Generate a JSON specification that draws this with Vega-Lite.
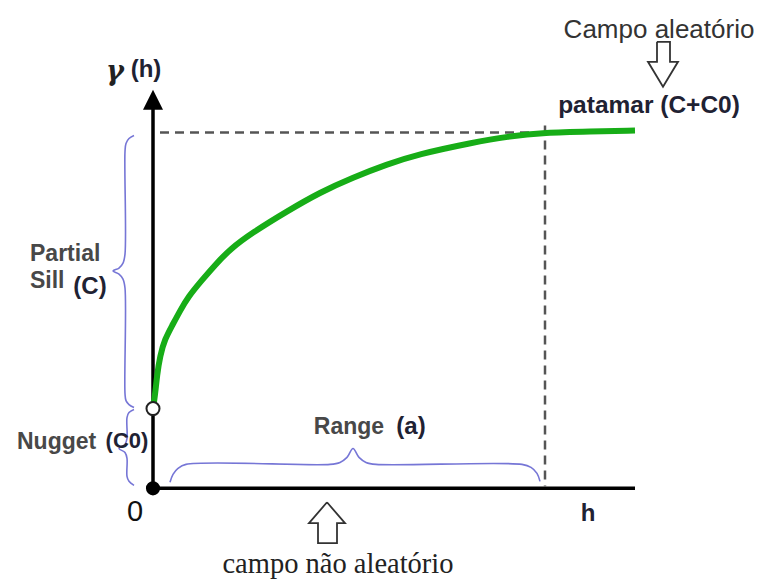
{
  "$schema": "https://vega.github.io/schema/vega-lite/v6.json",
  "width": 760,
  "height": 579,
  "autosize": {"type": "fit", "contains": "padding"},
  "padding": 0,
  "background": "white",
  "config": {"view": {"stroke": null}},
  "encoding": {
    "x": {"field": "h", "type": "quantitative", "scale": {"domain": [-3.825, 15.175], "nice": false, "zero": false}, "axis": null},
    "y": {"field": "g", "type": "quantitative", "scale": {"domain": [-2.225, 12.25], "nice": false, "zero": false}, "axis": null}
  },
  "layer": [
    {
      "data": {"values": [
        {"h": 0.175, "g": 8.925, "h2": 9.8, "g2": 8.925},
        {"h": 9.8, "g": 9.1, "h2": 9.8, "g2": 0.05}
      ]},
      "mark": {"type": "rule", "color": "#555555", "strokeWidth": 2.5, "strokeDash": [9, 6]},
      "encoding": {"x2": {"field": "h2"}, "y2": {"field": "g2"}}
    },
    {
      "data": {"values": [
        {"h": 0, "g": 0, "h2": 0, "g2": 9.6},
        {"h": 0, "g": 0, "h2": 12.05, "g2": 0}
      ]},
      "mark": {"type": "rule", "color": "black", "strokeWidth": 3.5},
      "encoding": {"x2": {"field": "h2"}, "y2": {"field": "g2"}}
    },
    {
      "data": {"values": [{"h": 0, "g": 9.75}]},
      "mark": {"type": "point", "shape": "M0,-1L1,1L-1,1Z", "filled": true, "color": "black", "opacity": 1, "size": 400}
    },
    {
      "data": {"values": [
        {"id": "sill", "i": 1, "h": -0.475, "g": 8.85},
        {"id": "sill", "i": 2, "h": -0.6, "g": 8.775},
        {"id": "sill", "i": 3, "h": -0.675, "g": 8.65},
        {"id": "sill", "i": 4, "h": -0.7, "g": 8.45},
        {"id": "sill", "i": 5, "h": -0.7, "g": 5.875},
        {"id": "sill", "i": 6, "h": -0.75, "g": 5.65},
        {"id": "sill", "i": 7, "h": -0.85, "g": 5.525},
        {"id": "sill", "i": 8, "h": -1.0, "g": 5.45},
        {"id": "sill", "i": 9, "h": -0.85, "g": 5.375},
        {"id": "sill", "i": 10, "h": -0.75, "g": 5.25},
        {"id": "sill", "i": 11, "h": -0.7, "g": 5.025},
        {"id": "sill", "i": 12, "h": -0.7, "g": 2.375},
        {"id": "sill", "i": 13, "h": -0.675, "g": 2.2},
        {"id": "sill", "i": 14, "h": -0.6, "g": 2.1},
        {"id": "sill", "i": 15, "h": -0.475, "g": 2.025},
        {"id": "nug", "i": 1, "h": -0.475, "g": 1.975},
        {"id": "nug", "i": 2, "h": -0.6, "g": 1.9},
        {"id": "nug", "i": 3, "h": -0.65, "g": 1.775},
        {"id": "nug", "i": 4, "h": -0.65, "g": 1.25},
        {"id": "nug", "i": 5, "h": -0.7, "g": 1.1},
        {"id": "nug", "i": 6, "h": -0.85, "g": 1.0},
        {"id": "nug", "i": 7, "h": -0.7, "g": 0.9},
        {"id": "nug", "i": 8, "h": -0.65, "g": 0.75},
        {"id": "nug", "i": 9, "h": -0.65, "g": 0.3},
        {"id": "nug", "i": 10, "h": -0.6, "g": 0.175},
        {"id": "nug", "i": 11, "h": -0.475, "g": 0.075},
        {"id": "range", "i": 1, "h": 0.425, "g": 0.15},
        {"id": "range", "i": 2, "h": 0.5, "g": 0.35},
        {"id": "range", "i": 3, "h": 0.625, "g": 0.5},
        {"id": "range", "i": 4, "h": 0.825, "g": 0.6},
        {"id": "range", "i": 5, "h": 4.425, "g": 0.6},
        {"id": "range", "i": 6, "h": 4.675, "g": 0.65},
        {"id": "range", "i": 7, "h": 4.85, "g": 0.775},
        {"id": "range", "i": 8, "h": 5.0, "g": 1.0},
        {"id": "range", "i": 9, "h": 5.15, "g": 0.775},
        {"id": "range", "i": 10, "h": 5.325, "g": 0.65},
        {"id": "range", "i": 11, "h": 5.575, "g": 0.6},
        {"id": "range", "i": 12, "h": 9.225, "g": 0.6},
        {"id": "range", "i": 13, "h": 9.45, "g": 0.525},
        {"id": "range", "i": 14, "h": 9.6, "g": 0.375},
        {"id": "range", "i": 15, "h": 9.675, "g": 0.175}
      ]},
      "mark": {"type": "line", "color": "#7676d6", "strokeWidth": 1.6, "interpolate": "catmull-rom"},
      "encoding": {"detail": {"field": "id"}, "order": {"field": "i", "type": "quantitative"}}
    },
    {
      "data": {"values": [
        {"id": "up", "i": 1, "h": 4.35, "g": -0.35},
        {"id": "up", "i": 2, "h": 4.8, "g": -0.875},
        {"id": "up", "i": 3, "h": 4.6, "g": -0.875},
        {"id": "up", "i": 4, "h": 4.6, "g": -1.375},
        {"id": "up", "i": 5, "h": 4.125, "g": -1.375},
        {"id": "up", "i": 6, "h": 4.125, "g": -0.875},
        {"id": "up", "i": 7, "h": 3.9, "g": -0.875},
        {"id": "up", "i": 8, "h": 4.35, "g": -0.35},
        {"id": "down", "i": 1, "h": 12.6, "g": 11.2},
        {"id": "down", "i": 2, "h": 12.925, "g": 11.2},
        {"id": "down", "i": 3, "h": 12.925, "g": 10.7},
        {"id": "down", "i": 4, "h": 13.125, "g": 10.7},
        {"id": "down", "i": 5, "h": 12.75, "g": 10.075},
        {"id": "down", "i": 6, "h": 12.375, "g": 10.7},
        {"id": "down", "i": 7, "h": 12.6, "g": 10.7},
        {"id": "down", "i": 8, "h": 12.6, "g": 11.2}
      ]},
      "mark": {"type": "line", "color": "#333333", "strokeWidth": 1.8, "strokeJoin": "miter"},
      "encoding": {"detail": {"field": "id"}, "order": {"field": "i", "type": "quantitative"}}
    },
    {
      "data": {"values": [
        {"h": 0, "g": 2.0},
        {"h": 0.05, "g": 2.325},
        {"h": 0.1, "g": 2.825},
        {"h": 0.175, "g": 3.325},
        {"h": 0.3, "g": 3.75},
        {"h": 0.475, "g": 4.075},
        {"h": 0.675, "g": 4.45},
        {"h": 0.875, "g": 4.8},
        {"h": 1.225, "g": 5.225},
        {"h": 1.55, "g": 5.6},
        {"h": 1.925, "g": 6.0},
        {"h": 2.5, "g": 6.425},
        {"h": 3.35, "g": 6.95},
        {"h": 4.175, "g": 7.425},
        {"h": 5.0, "g": 7.8},
        {"h": 5.85, "g": 8.125},
        {"h": 6.6, "g": 8.375},
        {"h": 8.0, "g": 8.675},
        {"h": 8.85, "g": 8.825},
        {"h": 9.8, "g": 8.925},
        {"h": 10.925, "g": 8.95},
        {"h": 12.05, "g": 8.975}
      ]},
      "mark": {"type": "line", "color": "#17ad17", "strokeWidth": 6, "interpolate": "basis"}
    },
    {
      "data": {"values": [{"h": 0, "g": 0}]},
      "mark": {"type": "point", "shape": "circle", "filled": true, "color": "black", "opacity": 1, "size": 200}
    },
    {
      "data": {"values": [{"h": 0, "g": 2.0}]},
      "mark": {"type": "point", "shape": "circle", "filled": true, "fill": "white", "stroke": "#222222", "strokeWidth": 2, "opacity": 1, "size": 170}
    },
    {
      "data": {"values": [{"h": -0.95, "g": 10.45, "label": "γ"}]},
      "mark": {"type": "text", "font": "DejaVu Serif", "fontStyle": "italic", "fontWeight": "bold", "fontSize": 27, "color": "#222222", "align": "center", "baseline": "middle"},
      "encoding": {"text": {"field": "label"}}
    },
    {
      "data": {"values": [
        {"h": -0.175, "g": 10.5, "label": "(h)"},
        {"h": -1.575, "g": 5.05, "label": "(C)"},
        {"h": 6.45, "g": 1.55, "label": "(a)"},
        {"h": 10.875, "g": -0.65, "label": "h"}
      ]},
      "mark": {"type": "text", "font": "Liberation Sans", "fontWeight": "bold", "fontSize": 24, "color": "#1f2233", "align": "center", "baseline": "middle"},
      "encoding": {"text": {"field": "label"}}
    },
    {
      "data": {"values": [
        {"h": -0.65, "g": 1.175, "label": "(C0)"}
      ]},
      "mark": {"type": "text", "font": "Liberation Sans", "fontWeight": "bold", "fontSize": 22, "color": "#1f2233", "align": "center", "baseline": "middle"},
      "encoding": {"text": {"field": "label"}}
    },
    {
      "data": {"values": [
        {"h": 12.4, "g": 9.6, "label": "patamar (C+C0)"}
      ]},
      "mark": {"type": "text", "font": "Liberation Sans", "fontWeight": "bold", "fontSize": 24.5, "color": "#1f2233", "align": "center", "baseline": "middle"},
      "encoding": {"text": {"field": "label"}}
    },
    {
      "data": {"values": [
        {"h": 12.65, "g": 11.5, "label": "Campo aleatório"}
      ]},
      "mark": {"type": "text", "font": "Liberation Sans", "fontSize": 26, "color": "#333333", "align": "center", "baseline": "middle"},
      "encoding": {"text": {"field": "label"}}
    },
    {
      "data": {"values": [
        {"h": -3.075, "g": 5.875, "label": "Partial"},
        {"h": -3.075, "g": 5.2, "label": "Sill"},
        {"h": -3.4, "g": 1.15, "label": "Nugget"}
      ]},
      "mark": {"type": "text", "font": "Liberation Sans", "fontWeight": "bold", "fontSize": 23, "color": "#484848", "align": "left", "baseline": "middle"},
      "encoding": {"text": {"field": "label"}}
    },
    {
      "data": {"values": [
        {"h": 4.9, "g": 1.55, "label": "Range"}
      ]},
      "mark": {"type": "text", "font": "Liberation Sans", "fontWeight": "bold", "fontSize": 23, "color": "#484848", "align": "center", "baseline": "middle"},
      "encoding": {"text": {"field": "label"}}
    },
    {
      "data": {"values": [
        {"h": -0.45, "g": -0.6, "label": "0"}
      ]},
      "mark": {"type": "text", "font": "Liberation Sans", "fontSize": 29, "color": "#111111", "align": "center", "baseline": "middle"},
      "encoding": {"text": {"field": "label"}}
    },
    {
      "data": {"values": [
        {"h": 4.625, "g": -2.125, "label": "campo não aleatório"}
      ]},
      "mark": {"type": "text", "font": "Liberation Serif", "fontSize": 28.5, "color": "#222222", "align": "center", "baseline": "alphabetic"},
      "encoding": {"text": {"field": "label"}}
    }
  ]
}
